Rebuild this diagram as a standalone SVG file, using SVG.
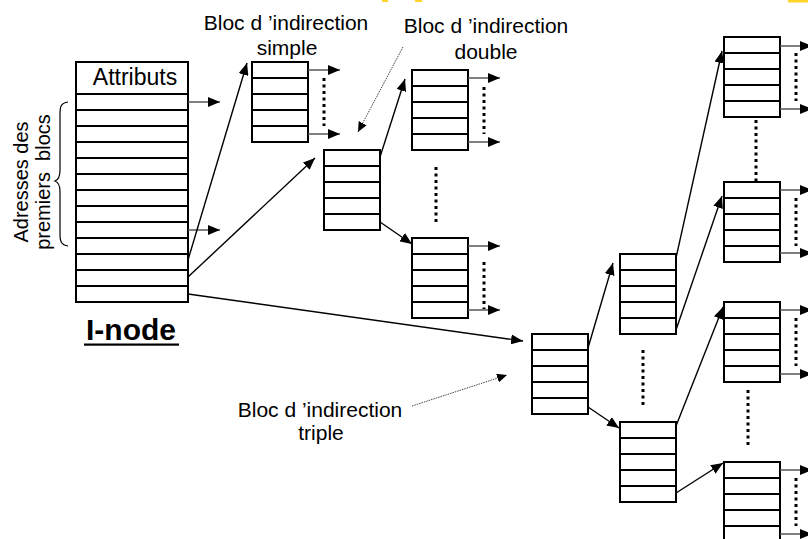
<svg xmlns="http://www.w3.org/2000/svg" xmlns:xlink="http://www.w3.org/1999/xlink" width="808" height="539" viewBox="0 0 808 539">
<style>
.lbl{font-family:"Liberation Sans",Arial,sans-serif;font-size:21px;fill:#000;text-anchor:middle}
.vt{font-family:"Liberation Sans",Arial,sans-serif;font-size:20px;fill:#000;text-anchor:middle}
.box{fill:#fff;stroke:#000;stroke-width:2}
.row{stroke:#000;stroke-width:2}
.ln{stroke:#000;stroke-width:1.4;fill:none}
.out{stroke:#555;stroke-width:1.5;fill:none}
.dots{stroke:#000;stroke-width:3;stroke-dasharray:3 3.5;fill:none}
.hint{stroke:#444;stroke-width:1;stroke-dasharray:1.5 1;fill:none}
.yel{fill:#FFD42A}
</style>
<defs>
<marker id="ah" markerUnits="userSpaceOnUse" markerWidth="13" markerHeight="10" refX="12" refY="5" orient="auto">
<path d="M0,0 L12,5 L0,10 z" fill="#000"/>
</marker>
<marker id="ahs" markerUnits="userSpaceOnUse" markerWidth="11" markerHeight="9" refX="10" refY="4.5" orient="auto">
<path d="M0,0 L10,4.5 L0,9 z" fill="#000"/>
</marker>
<g id="blk">
<rect class="box" x="0" y="0" width="56" height="80"/>
<path class="row" d="M0,16H56M0,32H56M0,48H56M0,64H56"/>
</g>
</defs>
<rect width="808" height="539" fill="#fff"/>
<rect class="yel" x="382" y="0" width="6" height="2"/>
<rect class="yel" x="415" y="0" width="7" height="2"/>
<rect class="yel" x="788" y="0" width="20" height="2.5"/>

<g id="inode">
<rect class="box" x="76" y="62" width="112" height="240"/>
<path class="row" d="M76,94H188M76,110H188M76,126H188M76,142H188M76,158H188M76,174H188M76,190H188M76,206H188M76,222H188M76,238H188M76,254H188M76,270H188M76,286H188"/>
<text class="lbl" x="135" y="85" style="font-size:23px">Attributs</text>
<text x="131" y="340" font-family="'Liberation Sans',Arial,sans-serif" font-size="30" font-weight="bold" text-anchor="middle">I-node</text>
<rect x="84" y="343.5" width="95" height="2.2" fill="#000"/>
</g>

<g id="adresses">
<text class="vt" transform="translate(28,182) rotate(-90)">Adresses des</text>
<text class="vt" transform="translate(50,182) rotate(-90)" xml:space="preserve">premiers  blocs</text>
<path d="M68,102 C60,103 60,108 60,115 L60,170 C60,176 58,180 55,181 C58,182 60,186 60,192 L60,234 C60,241 61,245 68,246" fill="none" stroke="#000" stroke-width="1.2"/>
</g>

<g id="label-simple">
<text class="lbl" x="286" y="30">Bloc d ’indirection</text>
<text class="lbl" x="287" y="55">simple</text>
</g>
<g id="label-double">
<text class="lbl" x="486" y="33">Bloc d ’indirection</text>
<text class="lbl" x="486" y="59">double</text>
</g>
<g id="label-triple">
<text class="lbl" x="320" y="417">Bloc d ’indirection</text>
<text class="lbl" x="321" y="440">triple</text>
</g>

<g id="simple"><use xlink:href="#blk" x="252" y="62"/></g>
<g id="double"><use xlink:href="#blk" x="324" y="150"/></g>
<g id="double-a"><use xlink:href="#blk" x="412" y="70"/></g>
<g id="double-b"><use xlink:href="#blk" x="412" y="238"/></g>
<g id="triple"><use xlink:href="#blk" x="532" y="334"/></g>
<g id="triple-a"><use xlink:href="#blk" x="620" y="254"/></g>
<g id="triple-b"><use xlink:href="#blk" x="620" y="422"/></g>
<g id="leaf-1"><use xlink:href="#blk" x="724" y="37"/></g>
<g id="leaf-2"><use xlink:href="#blk" x="724" y="182"/></g>
<g id="leaf-3"><use xlink:href="#blk" x="724" y="302"/></g>
<g id="leaf-4"><use xlink:href="#blk" x="724" y="462"/></g>

<g id="connectors">
<line class="out" x1="188" y1="102" x2="220" y2="102" marker-end="url(#ah)"/>
<line class="out" x1="188" y1="230" x2="220" y2="230" marker-end="url(#ah)"/>
<line class="ln" x1="188" y1="260" x2="247" y2="63" stroke-width="2" marker-end="url(#ah)"/>
<line class="ln" x1="188" y1="277" x2="315" y2="158" marker-end="url(#ah)"/>
<line class="ln" x1="188" y1="294" x2="523" y2="341" marker-end="url(#ah)"/>
<line class="ln" x1="380" y1="157" x2="405" y2="79" marker-end="url(#ah)"/>
<line class="ln" x1="380" y1="222" x2="412" y2="244" marker-end="url(#ah)"/>
<line class="ln" x1="588" y1="348" x2="613" y2="263" marker-end="url(#ah)"/>
<line class="ln" x1="588" y1="407" x2="619" y2="428" marker-end="url(#ah)"/>
<line class="ln" x1="676" y1="258" x2="722" y2="51" marker-end="url(#ah)"/>
<line class="ln" x1="676" y1="330" x2="722" y2="196" marker-end="url(#ah)"/>
<line class="ln" x1="676" y1="426" x2="723" y2="307" marker-end="url(#ah)"/>
<line class="ln" x1="676" y1="493" x2="723" y2="463" marker-end="url(#ah)"/>
<line class="hint" x1="403" y1="47" x2="358" y2="132" marker-end="url(#ahs)"/>
<line class="hint" x1="412" y1="406" x2="507" y2="375" marker-end="url(#ahs)"/>

<line class="out" x1="308" y1="70" x2="340" y2="70" marker-end="url(#ah)"/>
<line class="out" x1="308" y1="134" x2="340" y2="134" marker-end="url(#ah)"/>
<line class="dots" x1="324" y1="78" x2="324" y2="126"/>
<line class="out" x1="468" y1="78" x2="500" y2="78" marker-end="url(#ah)"/>
<line class="out" x1="468" y1="142" x2="500" y2="142" marker-end="url(#ah)"/>
<line class="dots" x1="484" y1="87" x2="484" y2="134"/>
<line class="out" x1="468" y1="246" x2="500" y2="246" marker-end="url(#ah)"/>
<line class="out" x1="468" y1="310" x2="500" y2="310" marker-end="url(#ah)"/>
<line class="dots" x1="484" y1="262" x2="484" y2="309"/>
<line class="dots" x1="436" y1="167" x2="436" y2="222"/>
<line class="dots" x1="643" y1="350" x2="643" y2="406"/>

<line class="out" x1="780" y1="46" x2="812" y2="46" marker-end="url(#ah)"/>
<line class="out" x1="780" y1="109" x2="812" y2="109" marker-end="url(#ah)"/>
<line class="dots" x1="796" y1="53" x2="796" y2="101"/>
<line class="out" x1="780" y1="190" x2="812" y2="190" marker-end="url(#ah)"/>
<line class="out" x1="780" y1="253" x2="812" y2="253" marker-end="url(#ah)"/>
<line class="dots" x1="796" y1="198" x2="796" y2="246"/>
<line class="out" x1="780" y1="310" x2="812" y2="310" marker-end="url(#ah)"/>
<line class="out" x1="780" y1="374" x2="812" y2="374" marker-end="url(#ah)"/>
<line class="dots" x1="796" y1="318" x2="796" y2="366"/>
<line class="out" x1="780" y1="470" x2="812" y2="470" marker-end="url(#ah)"/>
<line class="out" x1="780" y1="534" x2="812" y2="534" marker-end="url(#ah)"/>
<line class="dots" x1="796" y1="478" x2="796" y2="526"/>
<line class="dots" x1="756" y1="120" x2="756" y2="181"/>
<line class="dots" x1="748" y1="390" x2="748" y2="446"/>
</g>
</svg>
